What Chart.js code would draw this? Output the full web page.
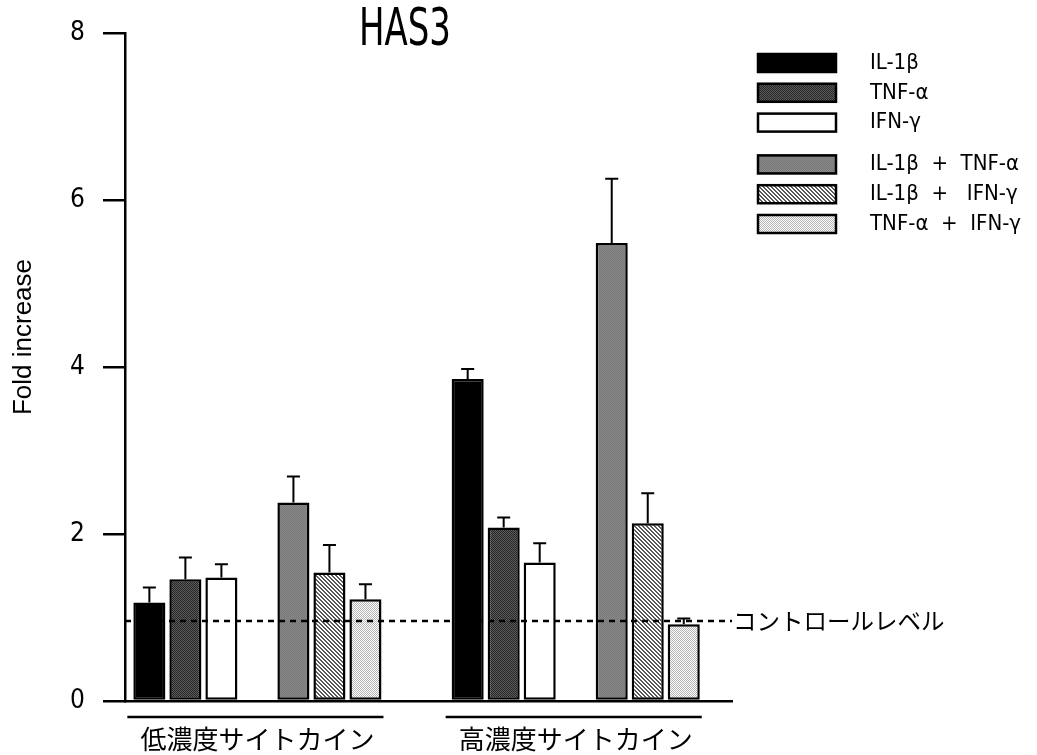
<!DOCTYPE html>
<html lang="ja">
<head>
<meta charset="UTF-8">
<title>HAS3</title>
<script src="https://cdn.jsdelivr.net/npm/chart.js"></script>
<style>
  html, body { margin: 0; padding: 0; background: #fff; }
</style>
</head>
<body>
<canvas id="has3Chart" width="1037" height="755"></canvas>
<script>
// ---- data ----
const groups = ['低濃度サイトカイン', '高濃度サイトカイン'];
const seriesNames = ['IL-1β', 'TNF-α', 'IFN-γ', 'IL-1β  +  TNF-α', 'IL-1β  +   IFN-γ', 'TNF-α  +  IFN-γ'];
// fold increase (low, high)
const il1 = [1.18, 3.86];
const tnf = [1.46, 2.08];
const ifn = [1.48, 1.66];
const il1Tnf = [2.38, 5.49];
const il1Ifn = [1.54, 2.13];
const tnfIfn = [1.22, 0.92];
// upper error (SE)
const il1Err = [0.18, 0.12];
const tnfErr = [0.26, 0.12];
const ifnErr = [0.16, 0.23];
const il1TnfErr = [0.31, 0.77];
const il1IfnErr = [0.33, 0.36];
const tnfIfnErr = [0.18, 0.07];
const yTicks = [0, 2, 4, 6, 8];
const controlLevel = 0.96;
const controlLabel = 'コントロールレベル';
const chartTitle = 'HAS3';
const yTitle = 'Fold increase';

const narrow = '"Liberation Sans Narrow", "DejaVu Sans Condensed", "Arial Narrow", sans-serif';
const jp = '"Noto Sans CJK JP", sans-serif';

// small tiled fills to imitate the printed hatching
function makePattern(size, bg, fg, test) {
  const c = document.createElement('canvas');
  c.width = size; c.height = size;
  const g = c.getContext('2d');
  g.fillStyle = bg;
  g.fillRect(0, 0, size, size);
  g.fillStyle = fg;
  for (let y = 0; y < size; y++)
    for (let x = 0; x < size; x++)
      if (test(x, y)) g.fillRect(x, y, 1, 1);
  return g.createPattern(c, 'repeat');
}

const fills = [
  '#000000',
  makePattern(2, '#5c5c5c', '#262626', (x, y) => (x + y) % 2 === 0),
  '#ffffff',
  makePattern(2, '#8a8a8a', '#777777', (x, y) => (x + y) % 2 === 0),
  makePattern(4, '#ffffff', '#5a5a5a', (x, y) => (x - y + 4) % 4 < 2),
  makePattern(2, '#ffffff', '#b4b4b4', (x, y) => (x + y) % 2 === 0)
];

const values = [il1, tnf, ifn, il1Tnf, il1Ifn, tnfIfn];
const errors = [il1Err, tnfErr, ifnErr, il1TnfErr, il1IfnErr, tnfIfnErr];

const toPoints = arr => arr.map((v, i) => ({ x: i, y: v }));

let datasets = values.map((vals, k) => ({
  label: seriesNames[k],
  data: toPoints(vals),
  errors: errors[k],
  backgroundColor: fills[k],
  borderColor: '#000',
  borderWidth: 2.5,
  borderSkipped: false
}));
// empty slot between single and combined treatments
datasets.splice(3, 0, { label: '', data: groups.map((g, i) => ({ x: i, y: null })), spacer: true });

const extras = {
  id: 'extras',
  afterDatasetsDraw(chart) {
    const ctx = chart.ctx;
    const y = chart.scales.y;
    const area = chart.chartArea;

    // error bars (upper only)
    ctx.save();
    ctx.strokeStyle = '#000';
    ctx.lineWidth = 2;
    chart.data.datasets.forEach((ds, di) => {
      if (ds.spacer) return;
      chart.getDatasetMeta(di).data.forEach((bar, j) => {
        const top = y.getPixelForValue(ds.data[j].y + ds.errors[j]);
        ctx.beginPath();
        ctx.moveTo(bar.x, bar.y);
        ctx.lineTo(bar.x, top);
        ctx.moveTo(bar.x - 6.5, top);
        ctx.lineTo(bar.x + 6.5, top);
        ctx.stroke();
      });
    });

    // control level
    const cy = y.getPixelForValue(controlLevel);
    ctx.setLineDash([6, 5]);
    ctx.lineWidth = 2.5;
    ctx.beginPath();
    ctx.moveTo(area.left, cy);
    ctx.lineTo(area.right, cy);
    ctx.stroke();
    ctx.setLineDash([]);
    ctx.fillStyle = '#000';
    ctx.font = '23.5px ' + jp;
    ctx.textBaseline = 'middle';
    ctx.textAlign = 'left';
    ctx.fillText(controlLabel, area.right + 1, cy);

    // group underlines
    const metas = chart.data.datasets.map((ds, i) => ds.spacer ? null : chart.getDatasetMeta(i)).filter(Boolean);
    ctx.lineWidth = 2.5;
    groups.forEach((g, j) => {
      const first = metas[0].data[j];
      const last = metas[metas.length - 1].data[j];
      const ly = area.bottom + 16;
      ctx.beginPath();
      ctx.moveTo(first.x - first.width / 2 - 6, ly);
      ctx.lineTo(last.x + last.width / 2 + 2, ly);
      ctx.stroke();
    });
    ctx.restore();
  },
  afterDraw(chart) {
    const ctx = chart.ctx;
    ctx.save();
    ctx.fillStyle = '#000';

    // title (squeezed to a narrow face)
    ctx.save();
    ctx.translate(405, 32);
    ctx.scale(0.74, 1);
    ctx.font = '51px ' + narrow;
    ctx.textAlign = 'center';
    ctx.textBaseline = 'middle';
    ctx.fillText(chartTitle, 0, 0);
    ctx.restore();

    // y axis title
    ctx.save();
    ctx.translate(24, 337);
    ctx.rotate(-Math.PI / 2);
    ctx.font = '26px "Liberation Sans", Arial, sans-serif';
    ctx.textAlign = 'center';
    ctx.textBaseline = 'middle';
    ctx.fillText(yTitle, 0, 0);
    ctx.restore();

    // legend
    let rowY = 53;
    chart.data.datasets.filter(ds => !ds.spacer).forEach((ds, k) => {
      if (k === 3) rowY += 12;
      ctx.fillStyle = ds.backgroundColor;
      ctx.fillRect(757, rowY, 80, 20);
      ctx.strokeStyle = '#000';
      ctx.lineWidth = 2.5;
      ctx.strokeRect(758, rowY + 1, 78, 18);
      ctx.fillStyle = '#000';
      ctx.font = '22px ' + narrow;
      ctx.textAlign = 'left';
      ctx.textBaseline = 'middle';
      ctx.fillText(ds.label, 870, rowY + 10);
      rowY += 29.8;
    });
    ctx.restore();
  }
};

new Chart(document.getElementById('has3Chart'), {
  type: 'bar',
  data: { datasets: datasets },
  options: {
    responsive: false,
    animation: false,
    devicePixelRatio: 1,
    categoryPercentage: 0.792,
    barPercentage: 0.89,
    layout: { padding: { left: 0, right: 305, top: 25, bottom: 0 } },
    plugins: { legend: { display: false }, tooltip: { enabled: false } },
    scales: {
      x: {
        type: 'linear',
        offset: false,
        min: -0.416,
        max: 1.491,
        afterBuildTicks: s => { s.ticks = groups.map((g, i) => ({ value: i })); },
        afterFit: s => { s.height = 54; },
        grid: { display: false, drawTicks: false, offset: false },
        border: { display: true, color: '#000', width: 2.5 },
        ticks: {
          callback: v => groups[v],
          autoSkip: false,
          maxRotation: 0,
          padding: 23,
          color: '#000',
          font: { family: jp, size: 26 }
        }
      },
      y: {
        min: 0,
        max: 8,
        afterBuildTicks: s => { s.ticks = yTicks.map(v => ({ value: v })); },
        afterFit: s => { s.width = 125; },
        grid: { drawOnChartArea: false, drawTicks: true, tickLength: 22, color: '#000', lineWidth: 2.5 },
        border: { display: true, color: '#000', width: 2.5 },
        ticks: { padding: 18, color: '#000', font: { family: narrow, size: 26 } }
      }
    }
  },
  plugins: [extras]
});
</script>
</body>
</html>
